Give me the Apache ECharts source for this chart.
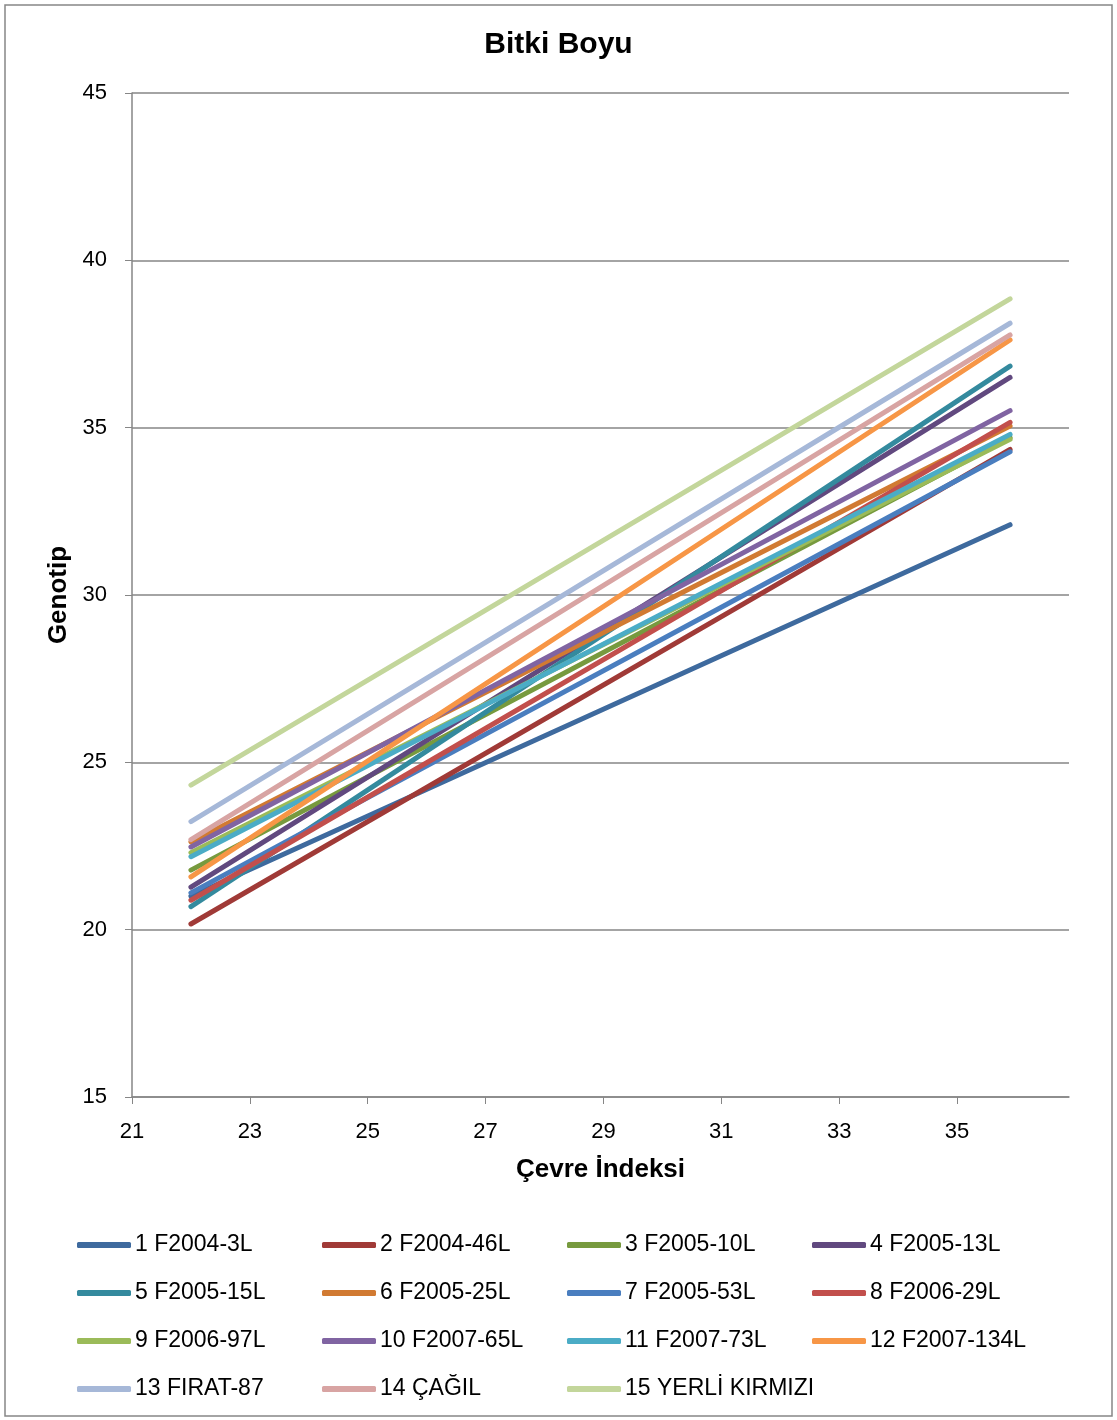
<!DOCTYPE html>
<html>
<head>
<meta charset="utf-8">
<script src="https://cdn.jsdelivr.net/npm/echarts@6/dist/echarts.min.js"></script>
<style>
html,body{margin:0;padding:0;background:#fff;}
#chart{width:1117px;height:1420px;}
</style>
</head>
<body>
<div id="chart"></div>
<script>
// ---- data ----
const genotypes = [
  '1 F2004-3L','2 F2004-46L','3 F2005-10L','4 F2005-13L',
  '5 F2005-15L','6 F2005-25L','7 F2005-53L','8 F2006-29L',
  '9 F2006-97L','10 F2007-65L','11 F2007-73L','12 F2007-134L',
  '13 FIRAT-87','14 ÇAĞIL','15 YERLİ KIRMIZI'
];
const envIndex = [22.0, 35.9];            // Çevre İndeksi (x) at line ends
const startValues = [21.0, 20.17, 21.78, 21.27, 20.69, 22.62, 21.1, 20.88, 22.3, 22.47, 22.18, 21.58, 23.23, 22.69, 24.32];
const endValues   = [32.1, 34.35, 34.7, 36.5, 36.84, 35.05, 34.28, 35.16, 34.65, 35.51, 34.8, 37.62, 38.12, 37.77, 38.85];
const xTicks = [21, 23, 25, 27, 29, 31, 33, 35];
const yTicks = [15, 20, 25, 30, 35, 40, 45];

const palette = ['#3E6A9E','#A03A37','#779A3E','#61497F','#348A9E','#D17A32','#4A7EBF','#C24F4C',
                 '#9BBB59','#8064A2','#4BACC6','#F79646','#A6B8D8','#D8A4A3','#C3D69B'];

const chart = echarts.init(document.getElementById('chart'), null, {renderer:'canvas'});
const FONT = '"Liberation Sans", Arial, sans-serif';
const axisGray = '#868686';

const series = genotypes.map((name, i) => ({
  name: name,
  type: 'line',
  data: [[envIndex[0], startValues[i]], [envIndex[1], endValues[i]]],
  showSymbol: false,
  symbol: 'none',
  lineStyle: {width: 5, color: palette[i], cap: 'round'},
  itemStyle: {color: palette[i]},
  emphasis: {disabled: true}
}));

const legendCols = [[0,4,8,12],[1,5,9,13],[2,6,10,14],[3,7,11]];
const colLeft = [72, 317, 562, 807];
const legends = legendCols.map((idxs, c) => ({
  orient: 'vertical',
  left: colLeft[c],
  top: 1228,
  data: idxs.map(i => genotypes[i]),
  icon: 'roundRect',
  itemWidth: 54,
  itemHeight: 6,
  itemGap: 24,
  selectedMode: false,
  textStyle: {fontFamily: FONT, fontSize: 23, lineHeight: 24, color: '#000', padding: [0,0,0,-1]}
}));

chart.setOption({
  animation: false,
  color: palette,
  title: {
    text: 'Bitki Boyu',
    left: 'center',
    top: 25,
    textStyle: {fontFamily: FONT, fontSize: 30, fontWeight: 'bold', color: '#000'}
  },
  graphic: [{
    type: 'rect',
    shape: {x: 5, y: 5, width: 1107, height: 1411},
    style: {fill: 'none', stroke: axisGray, lineWidth: 1.5},
    silent: true
  }],
  legend: legends,
  grid: {left: 132, right: 48, top: 93, bottom: 323, containLabel: false},
  xAxis: {
    type: 'value',
    min: 21, max: 36.9, interval: 2,
    name: 'Çevre İndeksi',
    nameLocation: 'middle',
    nameGap: 60,
    nameTextStyle: {fontFamily: FONT, fontSize: 26, fontWeight: 'bold', color: '#000'},
    axisLine: {show: true, lineStyle: {color: axisGray, width: 1.5}},
    axisTick: {show: true, length: 7, lineStyle: {color: axisGray}, customValues: xTicks},
    axisLabel: {fontFamily: FONT, fontSize: 22, color: '#000', margin: 24, customValues: xTicks},
    splitLine: {show: false}
  },
  yAxis: {
    type: 'value',
    min: 15, max: 45, interval: 5,
    name: 'Genotip',
    nameLocation: 'middle',
    nameGap: 60,
    nameTextStyle: {fontFamily: FONT, fontSize: 26, fontWeight: 'bold', color: '#000'},
    axisLine: {show: true, lineStyle: {color: axisGray, width: 1.5}},
    axisTick: {show: true, length: 7, lineStyle: {color: axisGray}, customValues: yTicks},
    axisLabel: {fontFamily: FONT, fontSize: 22, color: '#000', margin: 25, customValues: yTicks},
    splitLine: {show: true, lineStyle: {color: axisGray, width: 1.5}}
  },
  series: series
});
</script>
</body>
</html>
